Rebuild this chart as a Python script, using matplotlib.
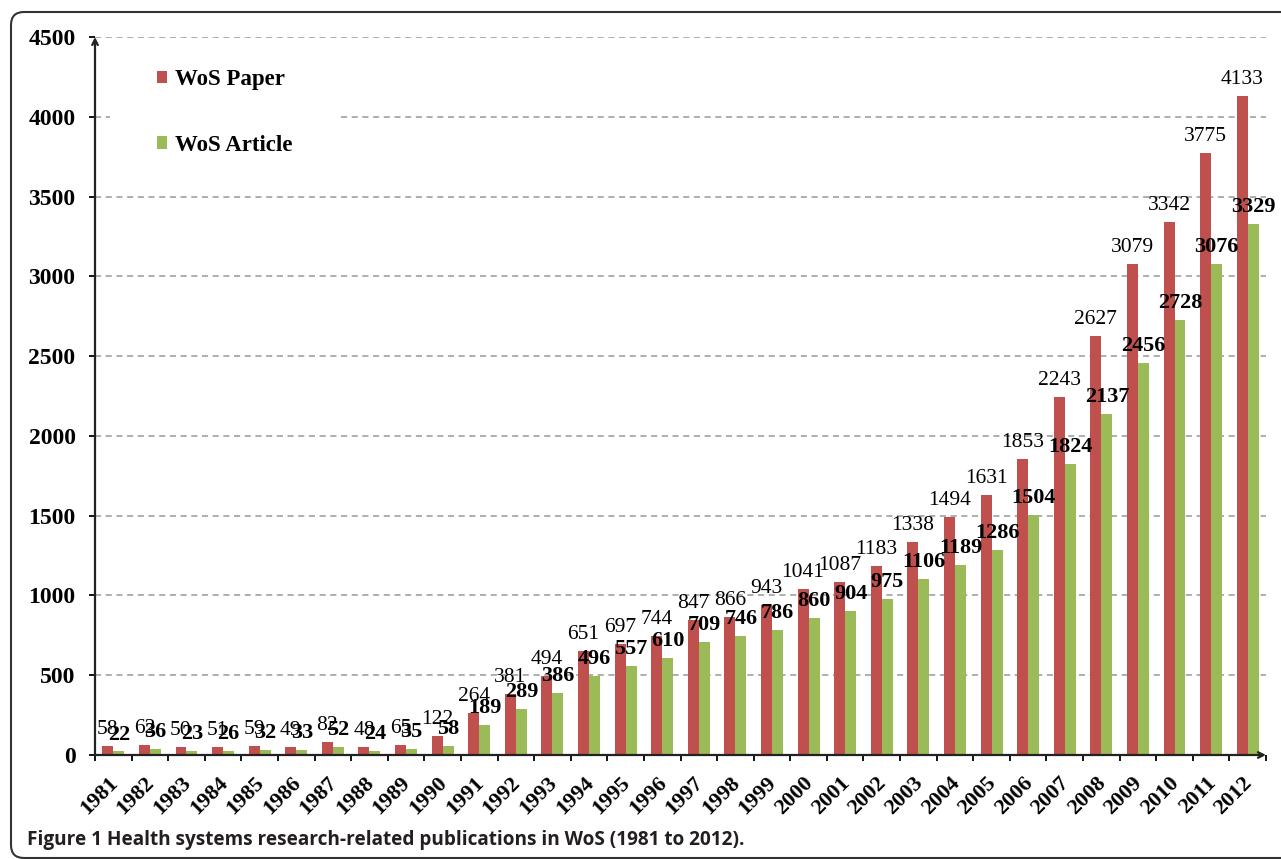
import numpy as np
import matplotlib.pyplot as plt
from matplotlib.patches import FancyBboxPatch, Rectangle

years = [str(y) for y in range(1981, 2013)]
wos_paper = [58, 62, 50, 51, 59, 49, 82, 48, 65, 122, 264, 381, 494, 651, 697, 744,
             847, 866, 943, 1041, 1087, 1183, 1338, 1494, 1631, 1853, 2243, 2627,
             3079, 3342, 3775, 4133]
wos_article = [22, 36, 23, 26, 32, 33, 52, 24, 35, 58, 189, 289, 386, 496, 557, 610,
               709, 746, 786, 860, 904, 975, 1106, 1189, 1286, 1504, 1824, 2137,
               2456, 2728, 3076, 3329]
yticks = [0, 500, 1000, 1500, 2000, 2500, 3000, 3500, 4000, 4500]

red = "#C0504D"
green = "#9BBB59"
serif = "Liberation Serif"

fig = plt.figure(figsize=(12.81, 8.59), dpi=100)
ax = fig.add_axes([95/1281, 104/859, 1171/1281, 718/859])

x = np.arange(len(years))
w = 0.3
ax.bar(x - w/2, wos_paper, w, color=red, label="WoS Paper", zorder=3)
ax.bar(x + w/2, wos_article, w, color=green, label="WoS Article", zorder=3)

for xi, v in zip(x, wos_paper):
	ax.annotate(str(v), (xi - w/2, v), xytext=(0, 5), textcoords="offset points",
		ha="center", va="bottom", fontsize=15.5, family=serif, zorder=5)
for xi, v in zip(x, wos_article):
	ax.annotate(str(v), (xi + w/2, v), xytext=(0, 5), textcoords="offset points",
		ha="center", va="bottom", fontsize=16, family=serif, fontweight="bold", zorder=6)

ax.set_xlim(-0.5, len(years) - 0.5)
ax.set_ylim(0, 4500)
ax.set_yticks(yticks)
ax.set_yticklabels([str(t) for t in yticks], family=serif, fontsize=17, fontweight="bold")
ax.tick_params(axis="y", length=4, width=1.3, pad=10)

ax.set_xticks(x - 0.15)
ax.set_xticklabels(years, family=serif, fontsize=16, fontweight="bold",
	rotation=45, ha="right", rotation_mode="anchor")
ax.set_xticks(np.arange(len(years) + 1) - 0.5, minor=True)
ax.tick_params(axis="x", which="major", length=0, pad=13)
ax.tick_params(axis="x", which="minor", length=4, width=1.3)

for s in ax.spines.values():
	s.set_visible(False)

for t in yticks[1:]:
	ax.axhline(t, color="#999999", lw=1.1, ls=(0, (4, 3)), zorder=1)

# pijltjes van de assen
ax.annotate("", xy=(0, 1), xytext=(0, 0), xycoords="axes fraction",
	arrowprops=dict(arrowstyle="->", color="#222222", lw=1.6, shrinkA=0, shrinkB=0), zorder=4)
ax.annotate("", xy=(1, 0), xytext=(0, 0), xycoords="axes fraction",
	arrowprops=dict(arrowstyle="->", color="#222222", lw=1.6, shrinkA=0, shrinkB=0), zorder=4)

# wit vlak achter de legenda
ax.add_patch(Rectangle((0.013, 0.79), 0.195, 0.2, transform=ax.transAxes,
	facecolor="white", edgecolor="none", zorder=2))
ax.legend(loc="upper left", bbox_to_anchor=(0.035, 0.984), frameon=False,
	prop={"family": serif, "weight": "bold", "size": 16.5},
	handlelength=0.45, handleheight=0.45, handletextpad=0.35, labelspacing=1.95)

frame = FancyBboxPatch((0.11, 0.01), 13.5, 8.46, boxstyle="round,pad=0,rounding_size=0.13",
	transform=fig.dpi_scale_trans, facecolor="none", edgecolor="#333333", lw=1.5, zorder=0)
fig.patches.append(frame)

fig.text(27/1281, 1 - 840/859,
	"Figure 1 Health systems research-related publications in WoS (1981 to 2012).",
	family="Open Sans", fontweight="bold", fontsize=13.7, color="#231f20",
	va="center", ha="left")

fig.savefig("out.png", dpi=100)
